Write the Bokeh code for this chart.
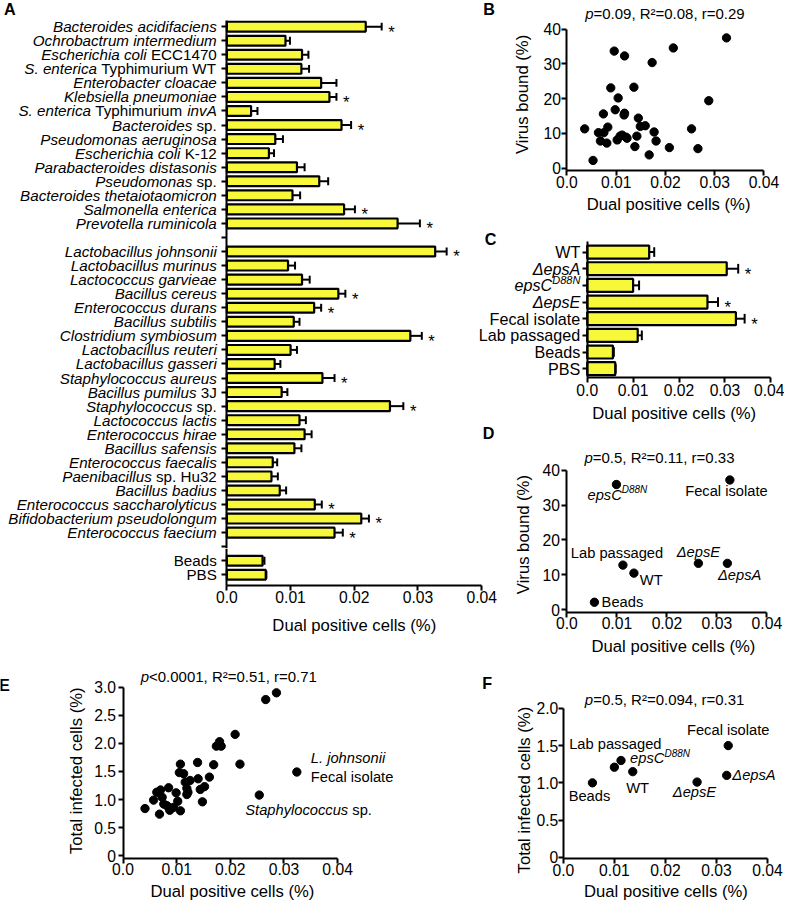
import math
import numpy as np
from bokeh.plotting import figure
from bokeh.models import Range1d, FixedTicker, CustomJSTickFormatter, Label, ColumnDataSource, GridBox
from bokeh.layouts import row, column
from bokeh.embed import file_html
from bokeh.resources import INLINE
from bokeh.core.properties import value

K = 0.98
FONT = "Liberation Sans"
YEL = "#F8F83A"

# ---------------- DATA ----------------
# Panel A : gram-negative strains
a_neg_names = [
    [("Bacteroides acidifaciens", "italic")],
    [("Ochrobactrum intermedium", "italic")],
    [("Escherichia coli", "italic"), (" ECC1470", "normal")],
    [("S. enterica", "italic"), (" Typhimurium WT", "normal")],
    [("Enterobacter cloacae", "italic")],
    [("Klebsiella pneumoniae", "italic")],
    [("S. enterica", "italic"), (" Typhimurium ", "normal"), ("invA", "italic")],
    [("Bacteroides", "italic"), (" sp.", "normal")],
    [("Pseudomonas aeruginosa", "italic")],
    [("Escherichia coli", "italic"), (" K-12", "normal")],
    [("Parabacteroides distasonis", "italic")],
    [("Pseudomonas", "italic"), (" sp.", "normal")],
    [("Bacteroides thetaiotaomicron", "italic")],
    [("Salmonella enterica", "italic")],
    [("Prevotella ruminicola", "italic")],
]
a_neg_vals = [0.0218, 0.0092, 0.0118, 0.0117, 0.0148, 0.0161, 0.0038, 0.0180, 0.0076, 0.0066,
              0.0110, 0.0145, 0.0103, 0.0184, 0.0268]
a_neg_err = [0.0025, 0.0007, 0.0010, 0.0012, 0.0024, 0.0011, 0.0010, 0.0015, 0.0012, 0.0008,
             0.0012, 0.0014, 0.0012, 0.0017, 0.0035]
a_neg_sig = [1, 0, 0, 0, 0, 1, 0, 1, 0, 0, 0, 0, 0, 1, 1]

# Panel A : gram-positive strains
a_pos_names = [
    [("Lactobacillus johnsonii", "italic")],
    [("Lactobacillus murinus", "italic")],
    [("Lactococcus garvieae", "italic")],
    [("Bacillus cereus", "italic")],
    [("Enterococcus durans", "italic")],
    [("Bacillus subtilis", "italic")],
    [("Clostridium symbiosum", "italic")],
    [("Lactobacillus reuteri", "italic")],
    [("Lactobacillus gasseri", "italic")],
    [("Staphylococcus aureus", "italic")],
    [("Bacillus pumilus", "italic"), (" 3J", "normal")],
    [("Staphylococcus", "italic"), (" sp.", "normal")],
    [("Lactococcus lactis", "italic")],
    [("Enterococcus hirae", "italic")],
    [("Bacillus safensis", "italic")],
    [("Enterococcus faecalis", "italic")],
    [("Paenibacillus", "italic"), (" sp. Hu32", "normal")],
    [("Bacillus badius", "italic")],
    [("Enterococcus saccharolyticus", "italic")],
    [("Bifidobacterium pseudolongum", "italic")],
    [("Enterococcus faecium", "italic")],
]
a_pos_vals = [0.0327, 0.0096, 0.0118, 0.0175, 0.0137, 0.0105, 0.0288, 0.0100, 0.0075, 0.0150,
              0.0086, 0.0256, 0.0114, 0.0122, 0.0106, 0.0072, 0.0070, 0.0083, 0.0138, 0.0211, 0.0169]
a_pos_err = [0.0018, 0.0011, 0.0012, 0.0011, 0.0011, 0.0009, 0.0018, 0.0010, 0.0009, 0.0019,
             0.0009, 0.0021, 0.0010, 0.0011, 0.0011, 0.0007, 0.0010, 0.0010, 0.0011, 0.0012, 0.0013]
a_pos_sig = [1, 0, 0, 1, 1, 0, 1, 0, 0, 1, 0, 1, 0, 0, 0, 0, 0, 0, 1, 1, 1]

# Panel A : controls
a_ctrl_names = [[("Beads", "normal")], [("PBS", "normal")]]
a_ctrl_vals = [0.0056, 0.0061]
a_ctrl_err = [0.0003, 0.0001]
a_ctrl_sig = [0, 0]

x_ticks = [0.0, 0.01, 0.02, 0.03, 0.04]
x_title = "Dual positive cells (%)"

# Panel B : virus bound vs dual positive (all strains)
b_dual = [0.0036, 0.0053, 0.0064, 0.0068, 0.0074, 0.0075, 0.0083, 0.0081, 0.0089, 0.0096,
          0.0098, 0.0104, 0.0102, 0.0108, 0.0112, 0.0116, 0.0117, 0.0117, 0.0120, 0.0122,
          0.0136, 0.0138, 0.0142, 0.0145, 0.0149, 0.0159, 0.0167, 0.0173, 0.0177, 0.0181,
          0.0208, 0.0216, 0.0253, 0.0266, 0.0288, 0.0324]
b_virus = [11.3, 2.2, 10.2, 7.8, 15.6, 10.2, 11.8, 7.2, 23.1, 33.7,
           16.8, 20.2, 8.1, 9.2, 9.5, 15.3, 15.8, 32.3, 8.9, 8.6,
           23.3, 6.2, 9.2, 14.4, 12.0, 12.2, 3.8, 30.4, 10.4, 7.8,
           5.9, 34.6, 11.3, 5.6, 19.4, 37.5]
virus_ticks = [0, 10, 20, 30, 40]

# Panel C : L. johnsonii variants
c_names = [
    [("WT", "normal")],
    [("ΔepsA", "italic")],
    [("epsC", "italic"), ("D88N", "italic", "sup")],
    [("ΔepsE", "italic")],
    [("Fecal isolate", "normal")],
    [("Lab passaged", "normal")],
    [("Beads", "normal")],
    [("PBS", "normal")],
]
c_vals = [0.0135, 0.0304, 0.0100, 0.0262, 0.0324, 0.0110, 0.0056, 0.0061]
c_err = [0.0011, 0.0025, 0.0013, 0.0023, 0.0019, 0.0009, 0.0002, 0.0001]
c_sig = [0, 1, 0, 1, 1, 0, 0, 0]

# Panels D / F : variants
v_names = [
    [("WT", "normal")],
    [("ΔepsA", "italic")],
    [("epsC", "italic"), ("D88N", "italic", "sup")],
    [("ΔepsE", "italic")],
    [("Fecal isolate", "normal")],
    [("Lab passaged", "normal")],
    [("Beads", "normal")],
]
d_dual = [0.0134, 0.0321, 0.0099, 0.0263, 0.0326, 0.0112, 0.0055]
d_virus = [10.5, 13.3, 35.9, 13.3, 37.2, 12.8, 2.15]
f_dual = [0.0136, 0.0320, 0.0113, 0.0262, 0.0323, 0.0100, 0.0057]
f_total = [1.15, 1.10, 1.30, 1.01, 1.50, 1.21, 1.00]
total_ticks = [0, 0.5, 1.0, 1.5, 2.0, 2.5, 3.0]

# Panel E : total infected vs dual positive (all strains)
e_dual = [0.0041, 0.0057, 0.0063, 0.0070, 0.0068, 0.0073, 0.0076, 0.0082, 0.0085, 0.0087,
          0.0094, 0.0099, 0.0102, 0.0107, 0.0105, 0.0107, 0.0113, 0.0116, 0.0119, 0.0119,
          0.0121, 0.0125, 0.0139, 0.0140, 0.0144, 0.0148, 0.0152, 0.0161, 0.0169, 0.0174,
          0.0180, 0.0183, 0.0209, 0.0218, 0.0254, 0.0266, 0.0286, 0.0324]
e_total = [0.84, 0.99, 1.13, 1.17, 0.74, 1.04, 0.92, 0.89, 1.21, 0.81,
           0.86, 1.12, 0.97, 1.63, 1.48, 0.80, 1.46, 1.31, 1.20, 1.09,
           1.13, 1.34, 1.66, 1.37, 1.18, 0.96, 1.23, 1.40, 1.62, 1.95,
           2.03, 1.95, 2.16, 1.63, 1.08, 2.78, 2.90, 1.49]
e_point_names = {37: [[("L. johnsonii", "italic")], [("Fecal isolate", "normal")]],
                 34: [[("Staphylococcus", "italic"), (" sp.", "normal")]]}

stat_b = [("p", "italic"), ("=0.09, R²=0.08, r=0.29", "normal")]
stat_d = [("p", "italic"), ("=0.5, R²=0.11, r=0.33", "normal")]
stat_e = [("p", "italic"), ("<0.0001, R²=0.51, r=0.71", "normal")]
stat_f = [("p", "italic"), ("=0.5, R²=0.094, r=0.31", "normal")]

# ---------------- helpers ----------------
CW = {' ': 278, '.': 278, ',': 278, '-': 333, '(': 333, ')': 333, '%': 889, '=': 584, '<': 584,
      '*': 389, '²': 333, 'Δ': 668,
      'A': 667, 'B': 667, 'C': 722, 'D': 722, 'E': 667, 'F': 611, 'G': 778, 'H': 722, 'I': 278,
      'J': 500, 'K': 667, 'L': 556, 'M': 833, 'N': 722, 'O': 778, 'P': 667, 'Q': 778, 'R': 722,
      'S': 667, 'T': 611, 'U': 722, 'V': 667, 'W': 944, 'X': 667, 'Y': 667, 'Z': 611,
      'a': 556, 'b': 556, 'c': 500, 'd': 556, 'e': 556, 'f': 278, 'g': 556, 'h': 556, 'i': 222,
      'j': 222, 'k': 500, 'l': 222, 'm': 833, 'n': 556, 'o': 556, 'p': 556, 'q': 556, 'r': 333,
      's': 500, 't': 278, 'u': 556, 'v': 500, 'w': 722, 'x': 500, 'y': 500, 'z': 500}
for _d in "0123456789":
    CW[_d] = 556


def tw(s, size):
    return sum(CW.get(c, 556) for c in s) / 1000.0 * size


def rich(p, x, y, segs, align="left", dx=0.0, dy=0.0, size=15.0, angle=0.0):
    """Mixed-style text at data (x, y); dx/dy in reference px (dy positive = down)."""
    parts = []
    for s in segs:
        sup = len(s) > 2
        parts.append((s[0], s[1], size * (0.68 if sup else 1.0), sup))
    total = sum(tw(t, sz) for t, st, sz, sup in parts)
    cur = 0.0 if align == "left" else (-total if align == "right" else -total / 2.0)
    for t, st, sz, sup in parts:
        lead = len(t) - len(t.lstrip())
        cur += tw(t[:lead], sz)
        core = t.strip()
        rise = size * 0.32 if sup else 0.0
        if angle:
            p.add_layout(Label(x=x, y=y, text=core, x_offset=dx * K, y_offset=-dy * K, angle=angle,
                               text_font=FONT, text_font_style=st, text_font_size=f"{sz * K:.2f}px",
                               text_align="center", text_baseline="middle", text_color="black"))
        else:
            p.add_layout(Label(x=x, y=y, text=core, x_offset=(dx + cur) * K, y_offset=(-dy + rise) * K,
                               text_font=FONT, text_font_style=st, text_font_size=f"{sz * K:.2f}px",
                               text_align="left", text_baseline="middle", text_color="black"))
        cur += tw(t[lead:], sz)


XFMT = "return tick == 0 ? '0.0' : tick.toFixed(2);"
YFMT1 = "return tick == 0 ? '0' : tick.toFixed(1);"


def make_fig(box, Lx, Rx, ty, tval, by, bval):
    """box = page rectangle in reference px; the frame fills it.
    x: 0 at Lx and 0.04 at Rx; y: tval at ty and bval at by (all reference px)."""
    ox, oy, ox2, oy2 = box
    px0, py0 = round(ox * K), round(oy * K)
    Wp, Hp = round(ox2 * K) - px0, round(oy2 * K) - py0
    xpp = 0.04 / ((Rx - Lx) * K)
    xs = -(Lx * K - px0) * xpp
    xe = xs + Wp * xpp
    ypp = (tval - bval) / ((by - ty) * K)
    ye = tval + (ty * K - py0) * ypp
    ys = ye - Hp * ypp
    p = figure(width=Wp, height=Hp, x_range=Range1d(xs, xe), y_range=Range1d(ys, ye),
               output_backend="svg", toolbar_location=None,
               min_border=0, min_border_left=0, min_border_right=0, min_border_top=0, min_border_bottom=0)
    p.outline_line_color = None
    p.xgrid.visible = False
    p.ygrid.visible = False

    def conv(ax, ay):
        return xs + (ax * K - px0) * xpp, ye - (ay * K - py0) * ypp
    return p, conv


def style_axes(p, x_at, y_lo, y_hi, yticks, yfmt, xls=0, yls=1, show_x=True):
    xa, ya = p.xaxis[0], p.yaxis[0]
    for ax in (xa, ya):
        ax.axis_line_width = 2
        ax.axis_line_color = "black"
        ax.major_tick_line_width = 2
        ax.major_tick_line_color = "black"
        ax.major_tick_out = 5
        ax.major_tick_in = 0
        ax.minor_tick_line_color = None
        ax.major_label_text_font = FONT
        ax.major_label_text_font_size = f"{16 * K:.1f}px"
        ax.major_label_text_color = "black"
    xa.ticker = FixedTicker(ticks=x_ticks)
    xa.formatter = CustomJSTickFormatter(code=XFMT)
    xa.fixed_location = x_at
    xa.bounds = (0, 0.04)
    xa.major_label_standoff = xls
    xa.visible = show_x
    ya.ticker = FixedTicker(ticks=yticks)
    ya.formatter = CustomJSTickFormatter(code=yfmt)
    ya.fixed_location = 0
    ya.bounds = (min(y_lo, y_hi), max(y_lo, y_hi))
    ya.major_label_standoff = yls


def put(p, conv, ax, ay, segs, align="center", size=15.0, angle=0.0):
    x, y = conv(ax, ay)
    rich(p, x, y, segs, align, size=size, angle=angle)


def bar_panel(p, pos, vals, errs, sig, bar_h, cap_h):
    vals = np.array(vals); errs = np.array(errs); pos = np.array(pos, dtype=float)
    ends = vals + errs
    p.segment(x0=vals, y0=pos, x1=ends, y1=pos, line_color="black", line_width=2)
    p.segment(x0=ends, y0=pos - cap_h, x1=ends, y1=pos + cap_h, line_color="black", line_width=2)
    p.hbar(y=pos, left=0, right=vals, height=bar_h, fill_color=YEL, line_color="black", line_width=2.2)
    sidx = [i for i, s in enumerate(sig) if s]
    src = ColumnDataSource(dict(x=ends[sidx], y=pos[sidx], t=["*"] * len(sidx)))
    p.text(x="x", y="y", text="t", source=src, x_offset=10 * K, y_offset=5.5 * K,
           text_font=value(FONT), text_font_size=value(f"{17 * K:.1f}px"),
           text_align="center", text_baseline="middle", text_color="black")


AXT = 17.0   # axis-title size (reference px)
STS = 15.3   # statistics line size
LET = 16.5   # panel letter size

# page grid (reference px):  columns 0 | 482 | 507 | 800 ; rows 0 | 222 | 432 | 559.5 | 670
X1, X2 = 482, 507
Y1, Y2, Y3, Y4 = 222, 432, 559.5, 670

# ---------------- Panel A (two canvases: upper part narrower, seam in the empty slot) ----------------
a_names = a_neg_names + a_pos_names + a_ctrl_names
a_vals = a_neg_vals + a_pos_vals + a_ctrl_vals
a_err = a_neg_err + a_pos_err + a_ctrl_err
a_sig = a_neg_sig + a_pos_sig + a_ctrl_sig
n1, n2, n3 = len(a_neg_names), len(a_pos_names), len(a_ctrl_names)
a_pos = list(range(n1)) + list(range(n1 + 1, n1 + 1 + n2)) + list(range(n1 + n2 + 2, n1 + n2 + 2 + n3))
n_slots = n1 + n2 + n3 + 2
A_MAP = (231, 491, 26.7, 0, 586, n_slots - 1)

pA1, cA1 = make_fig((0, 0, X1, Y3), *A_MAP)
pA2, cA2 = make_fig((0, Y3, X2, Y4), *A_MAP)
a_top, a_seam, a_bot = cA1(0, 20)[1], cA1(0, Y3)[1], cA1(0, 597)[1]
style_axes(pA1, a_bot, a_top, a_seam, list(range(n_slots)), "return '';", show_x=False)
style_axes(pA2, a_bot, a_seam, a_bot, list(range(n_slots)), "return '';", xls=0)
for pp, keep in ((pA1, lambda s: s < a_seam), (pA2, lambda s: s > a_seam)):
    idx = [i for i, s in enumerate(a_pos) if keep(s)]
    bar_panel(pp, [a_pos[i] for i in idx], [a_vals[i] for i in idx], [a_err[i] for i in idx],
              [a_sig[i] for i in idx], 0.70, 0.28)
    for i in idx:
        rich(pp, 0, a_pos[i], a_names[i], "right", dx=-10.3, dy=0, size=15.5)
put(pA2, cA2, 361, 638, [(x_title, "normal")], size=AXT)
put(pA1, cA1, 9, 8.3, [("A", "bold")], size=LET)

# ---------------- Panel B ----------------
pB, cB = make_fig((X1, 0, 800, Y1), 578, 779, 29.3, 40, 171, 0)
b_lo = cB(0, 173.7)[1]
style_axes(pB, b_lo, b_lo, 40, virus_ticks, "return tick.toFixed(0);", xls=0, yls=1)
pB.scatter(b_dual, b_virus, size=8.5 * K, color="black")
put(pB, cB, 678, 13, stat_b, size=STS)
put(pB, cB, 681.7, 208, [(x_title, "normal")], size=AXT)
put(pB, cB, 533, 95.8, [("Virus bound (%)", "normal")], size=AXT, angle=math.pi / 2)
put(pB, cB, 498, 8.3, [("B", "bold")], size=LET)

# ---------------- Panel C ----------------
pC, cC = make_fig((X1, Y1, 800, Y2), 598.7, 786, 256.7, 0, 375.7, len(c_names) - 1)
c_top, c_bot = cC(0, 246)[1], cC(0, 385)[1]
style_axes(pC, c_bot, c_top, c_bot, list(range(len(c_names))), "return '';", xls=1)
bar_panel(pC, list(range(len(c_names))), c_vals, c_err, c_sig, 0.78, 0.29)
for i, nm in enumerate(c_names):
    rich(pC, 0, i, nm, "right", dx=-7, dy=0, size=16.5)
put(pC, cC, 687.5, 421.2, [(x_title, "normal")], size=AXT)
put(pC, cC, 500, 243, [("C", "bold")], size=LET)

# ---------------- small canvas holding the letter D ----------------
pDl, cDl = make_fig((X1, Y2, X2, Y3), 578, 782, 479.3, 40, 621.7, 0)
pDl.xaxis.visible = False
pDl.yaxis.visible = False
put(pDl, cDl, 498, 441.5, [("D", "bold")], size=LET)

# ---------------- Panel D ----------------
pD, cD = make_fig((X2, Y2, 800, Y4), 578, 782, 479.3, 40, 621.7, 0)
d_lo = cD(0, 624.3)[1]
style_axes(pD, d_lo, d_lo, 40, virus_ticks, "return tick.toFixed(0);", xls=0, yls=2)
pD.scatter(d_dual, d_virus, size=8.5 * K, color="black")
put(pD, cD, 673, 466.7, stat_d, size=STS)
put(pD, cD, 686.7, 659.5, [(x_title, "normal")], size=AXT)
put(pD, cD, 533.3, 545, [("Virus bound (%)", "normal")], size=AXT, angle=math.pi / 2)
d_place = [("left", 6, 6.7), ("center", 12.5, 12.3), ("center", 1, 10.3), ("center", 0, -11.7),
           ("center", -3.5, 11.7), ("center", -6, -12), ("left", 7.3, 0)]
for nm, xv, yv, (al, ddx, ddy) in zip(v_names, d_dual, d_virus, d_place):
    rich(pD, xv, yv, nm, al, dx=ddx, dy=ddy, size=15)

# ---------------- Panel E ----------------
pE, cE = make_fig((0, Y4, 420, 920), 125, 344, 700.7, 3.0, 872.7, 0)
e_lo = cE(0, 875)[1]
style_axes(pE, e_lo, e_lo, 3.0, total_ticks, YFMT1, xls=0, yls=2)
pE.scatter(e_dual, e_total, size=8.5 * K, color="black")
put(pE, cE, 233, 690, stat_e, size=STS)
put(pE, cE, 236.7, 909.5, [(x_title, "normal")], size=AXT)
put(pE, cE, 78, 786, [("Total infected cells (%)", "normal")], size=AXT, angle=math.pi / 2)
put(pE, cE, 4, 698, [("E", "bold")], size=LET)
jl = e_point_names[37]
rich(pE, e_dual[37], e_total[37], jl[0], "left", dx=14.3, dy=-14, size=15)
rich(pE, e_dual[37], e_total[37], jl[1], "left", dx=14.3, dy=5.3, size=15)
rich(pE, e_dual[34], e_total[34], e_point_names[34][0], "left", dx=-14.3, dy=15.7, size=15)

# ---------------- Panel F ----------------
pF, cF = make_fig((420, Y4, 800, 920), 574.3, 782.7, 722.3, 2.0, 874.3, 0)
f_lo = cF(0, 876)[1]
style_axes(pF, f_lo, f_lo, 2.0, total_ticks[:5], YFMT1, xls=0, yls=0)
pF.scatter(f_dual, f_total, size=8.5 * K, color="black")
put(pF, cF, 677.7, 713, stat_f, size=STS)
put(pF, cF, 679, 909.5, [(x_title, "normal")], size=AXT)
put(pF, cF, 535, 805.7, [("Total infected cells (%)", "normal")], size=AXT, angle=math.pi / 2)
put(pF, cF, 496.7, 696.7, [("F", "bold")], size=LET)
f_place = [("center", 5, 16.3), ("left", 5.7, 0), ("left", 9.3, -2.3), ("center", -2.7, 10.3),
           ("center", 0, -15.7), ("center", 1, -23.7), ("center", -3, 13.3)]
for nm, xv, yv, (al, ddx, ddy) in zip(v_names, f_dual, f_total, f_place):
    rich(pF, xv, yv, nm, al, dx=ddx, dy=ddy, size=15)

top = GridBox(children=[
    (pA1, 0, 0, 3, 1),
    (pB, 0, 1, 1, 2),
    (pC, 1, 1, 1, 2),
    (pDl, 2, 1, 1, 1),
    (pD, 2, 2, 2, 1),
    (pA2, 3, 0, 1, 2),
], spacing=0)
layout = column(top, row(pE, pF))
open("out.html", "w").write(file_html(layout, INLINE))
